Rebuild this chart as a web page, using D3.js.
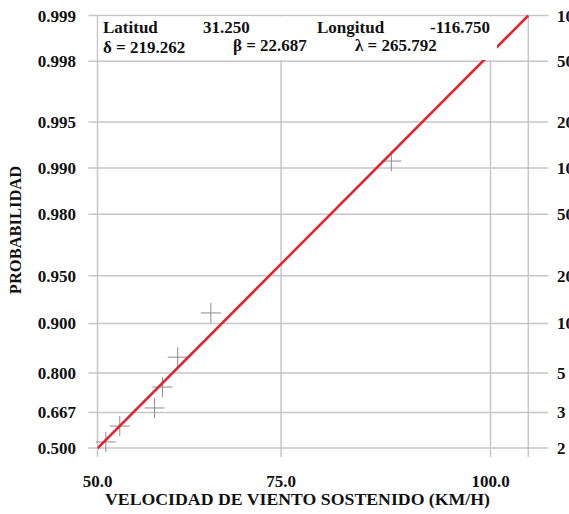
<!DOCTYPE html>
<html>
<head>
<meta charset="utf-8">
<script src="https://cdn.jsdelivr.net/npm/d3@7/dist/d3.min.js"></script>
<style>
  html, body { margin: 0; padding: 0; background: #fff; }
  svg { display: block; }
  text { font-family: "Liberation Serif", "Times New Roman", serif; font-weight: bold; fill: #111; }
</style>
</head>
<body>
<script>
// ---- data ----
const probTicks = [0.500, 0.667, 0.800, 0.900, 0.950, 0.980, 0.990, 0.995, 0.998, 0.999];
const probTickLabels = ["0.500", "0.667", "0.800", "0.900", "0.950", "0.980", "0.990", "0.995", "0.998", "0.999"];
const returnPeriodLabels = ["2", "3", "5", "10", "20", "50", "100", "200", "500", "1000"];
const speedTicks = [50, 75, 100];
const speedTickLabels = ["50.0", "75.0", "100.0"];
const obsSpeed = [51.2, 53.2, 58.1, 59.2, 61.3, 65.8, 88.6];
const obsProb  = [0.531, 0.608, 0.685, 0.759, 0.839, 0.914, 0.991];
const fitSpeed = [50.0, 104.15];
const fitProb  = [0.498, 0.999];
const xDomain = [50, 104.15];
const yDomain = [0.500, 0.999];
const infoRow1 = ["Latitud", "31.250", "Longitud", "-116.750"];
const infoRow2 = ["δ = 219.262", "β =", "22.687", "λ = 265.792"];
const lambda = 265.792;

// ---- layout ----
const W = 569, H = 514;
const L = 97.5, R = 528.3, T = 15.5, B = 448;

const svg = d3.select("body").append("svg").attr("width", W).attr("height", H);

// Weibull (upper-bounded) probability paper transforms
const tx = v => -Math.log(lambda - v);
const ty = p => -Math.log(-Math.log(p));

const xLin = d3.scaleLinear().domain(xDomain.map(tx)).range([L, R]);
const yLin = d3.scaleLinear().domain(yDomain.map(ty)).range([B, T]);
const X = v => xLin(tx(v));
const Y = p => yLin(ty(p));

const gridColor = "#c6c6c6";

// horizontal grid lines (with left/right tick extensions)
svg.append("g").selectAll("line").data(probTicks).join("line")
  .attr("x1", L - 9).attr("x2", R + 20)
  .attr("y1", d => Y(d)).attr("y2", d => Y(d))
  .attr("stroke", gridColor).attr("stroke-width", 1.5);

// vertical grid lines
svg.append("g").selectAll("line").data(speedTicks).join("line")
  .attr("x1", d => X(d)).attr("x2", d => X(d))
  .attr("y1", T).attr("y2", B + 9)
  .attr("stroke", gridColor).attr("stroke-width", 1.5);
// right frame
svg.append("line").attr("x1", R).attr("x2", R).attr("y1", T).attr("y2", B + 9)
  .attr("stroke", gridColor).attr("stroke-width", 1.5);

// clip
svg.append("clipPath").attr("id", "plotclip").append("rect")
  .attr("x", L).attr("y", T - 1).attr("width", R - L + 1).attr("height", B - T + 12);

// observations as plus markers
const obs = obsSpeed.map((s, i) => ({ s, p: obsProb[i] }));
const gObs = svg.append("g").attr("stroke", "#8c8c8c").attr("stroke-width", 1);
gObs.selectAll("line.h").data(obs).join("line").attr("class", "h")
  .attr("x1", d => X(d.s) - 10).attr("x2", d => X(d.s) + 10)
  .attr("y1", d => Y(d.p)).attr("y2", d => Y(d.p));
gObs.selectAll("line.v").data(obs).join("line").attr("class", "v")
  .attr("x1", d => X(d.s)).attr("x2", d => X(d.s))
  .attr("y1", d => Y(d.p) - 10).attr("y2", d => Y(d.p) + 10);

// fitted line
const fit = fitSpeed.map((s, i) => ({ s, p: fitProb[i] }));
svg.append("path").datum(fit)
  .attr("clip-path", "url(#plotclip)")
  .attr("d", d3.line().x(d => X(d.s)).y(d => Y(d.p)))
  .attr("fill", "none").attr("stroke", "#e3232b").attr("stroke-width", 2.5);

// info box (white background)
svg.append("rect").attr("x", L + 1).attr("y", T + 1).attr("width", 497 - L - 1).attr("height", 60 - T - 1)
  .attr("fill", "#fff");

const fs = 17;
const row1X = [103, 203, 317, 430];
svg.append("g").selectAll("text").data(infoRow1).join("text")
  .attr("x", (d, i) => row1X[i]).attr("y", 33)
  .attr("font-size", fs).text(d => d);
const row2X = [103, 233, 260, 355];
const row2Y = [53, 51, 51, 51];
svg.append("g").selectAll("text").data(infoRow2).join("text")
  .attr("x", (d, i) => row2X[i]).attr("y", (d, i) => row2Y[i])
  .attr("font-size", fs).text(d => d);

// left tick labels
svg.append("g").selectAll("text").data(probTicks).join("text")
  .attr("x", 76).attr("y", d => Y(d) + 6)
  .attr("text-anchor", "end").attr("font-size", fs)
  .text((d, i) => probTickLabels[i]);

// right tick labels (return periods, partly cut by the image edge as in the source)
svg.append("g").selectAll("text").data(probTicks).join("text")
  .attr("x", 557).attr("y", d => Y(d) + 6)
  .attr("font-size", fs)
  .text((d, i) => returnPeriodLabels[i]);

// bottom tick labels
svg.append("g").selectAll("text").data(speedTicks).join("text")
  .attr("x", d => X(d)).attr("y", 487)
  .attr("text-anchor", "middle").attr("font-size", fs)
  .text((d, i) => speedTickLabels[i]);

// axis titles
svg.append("text").attr("x", 105).attr("y", 505)
  .attr("textLength", 385).attr("lengthAdjust", "spacingAndGlyphs")
  .attr("font-size", fs).text("VELOCIDAD DE VIENTO SOSTENIDO (KM/H)");
svg.append("text").attr("transform", "translate(21,230) rotate(-90)")
  .attr("text-anchor", "middle").attr("font-size", 16.5).text("PROBABILIDAD");
</script>
</body>
</html>
